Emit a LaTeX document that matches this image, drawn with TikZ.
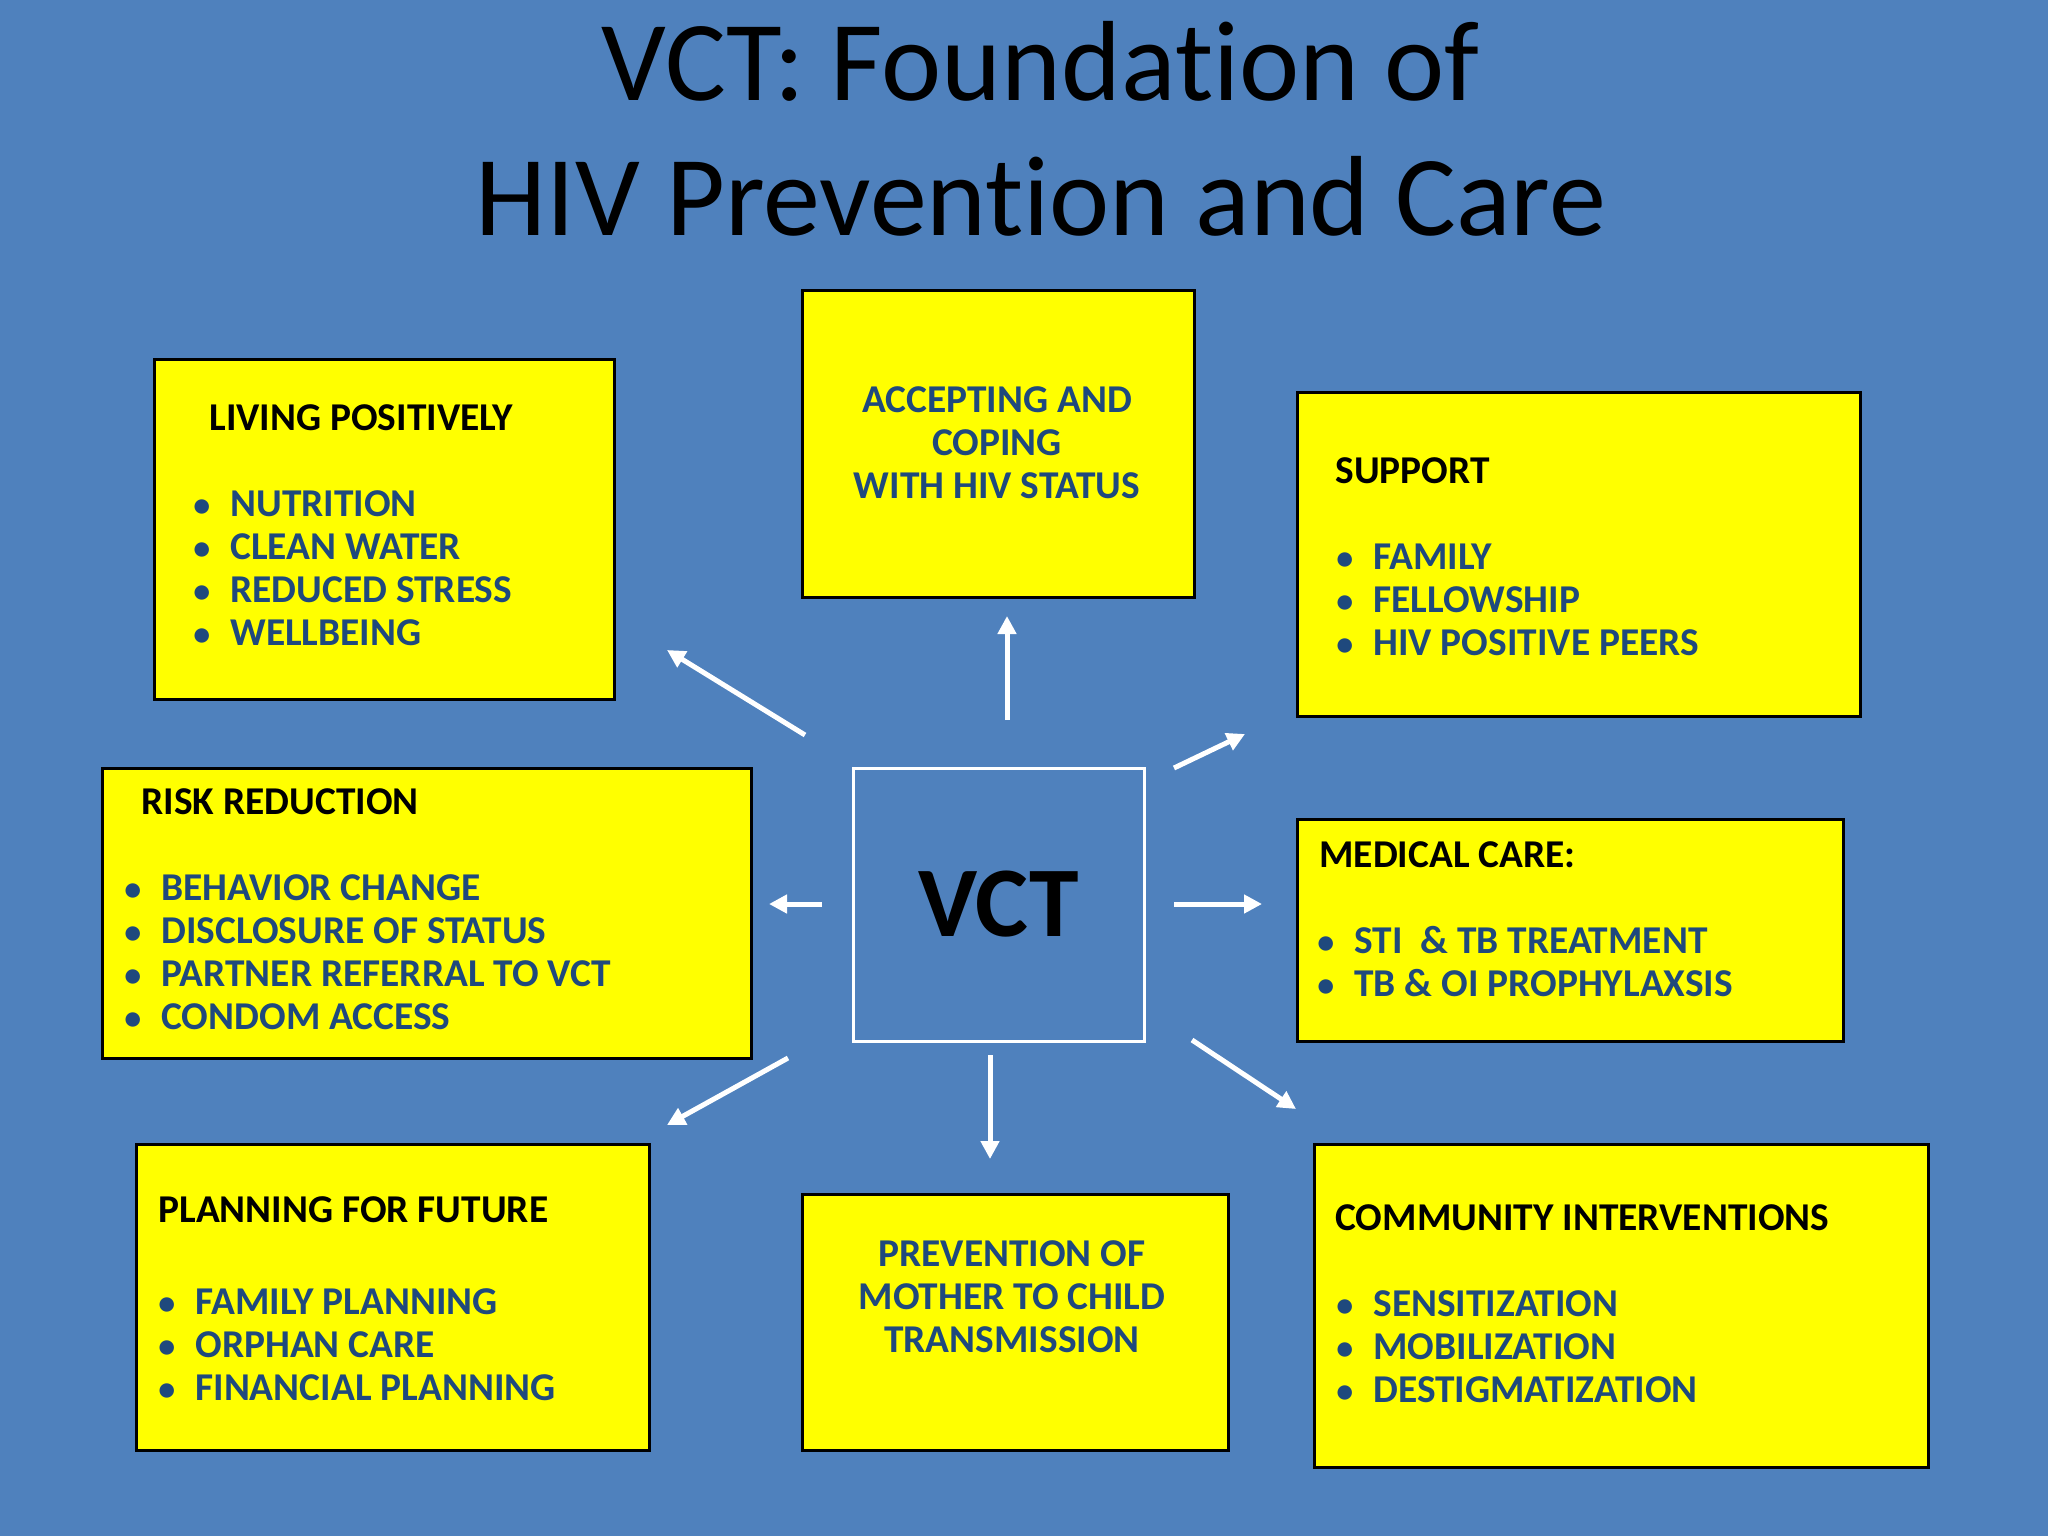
\documentclass[tikz,border=0pt]{standalone}
\usepackage{fontspec}
\setmainfont{Carlito}[Ligatures=NoCommon]
\usetikzlibrary{fit,arrows.meta}
\definecolor{bg}{HTML}{4F81BD}
\definecolor{ylw}{HTML}{FFFF00}
\definecolor{txtblue}{HTML}{1F497D}
\newcommand\bul{\llap{\makebox[18.5pt][l]{\fontsize{17}{17}\selectfont •}}}
\begin{document}
\begin{tikzpicture}[x=0.5pt,y=-0.5pt,
  ybox/.style={draw=black,line width=1.5pt,fill=ylw,inner sep=0pt},
  head/.style={anchor=base west,inner sep=0pt,font=\fontsize{19.7}{21.5}\selectfont\bfseries,text=black},
  item/.style={anchor=base west,inner sep=0pt,font=\fontsize{19.7}{21.5}\selectfont\bfseries,text=txtblue},
  ctext/.style={inner sep=0pt,align=center,font=\fontsize{19.7}{21.5}\selectfont\bfseries,text=txtblue},
  arr/.style={draw=white,line width=2.5pt,-{Triangle[length=9pt,width=9pt]}},
  ttl/.style={inner sep=0pt,anchor=base,font=\fontsize{57}{63}\selectfont,text=black}]
\fill[bg] (0,0) rectangle (2048,1536);
\useasboundingbox (0,0) rectangle (2048,1536);
% title
\node[ttl] (t1) at (1041,100) {VCT: Foundation of};
\node[ttl] (t2) at (1041,235) {HIV Prevention and Care};
% boxes
\node[ybox,fit={(154,359)(614,699)}] (liv) {};
\node[ybox,fit={(802,290)(1194,597)}] (acc) {};
\node[ybox,fit={(1297,392)(1860,716)}] (sup) {};
\node[ybox,fit={(1297,819)(1843,1041)}] (med) {};
\node[ybox,fit={(102,768)(751,1058)}] (risk) {};
\node[ybox,fit={(136,1144)(649,1450)}] (plan) {};
\node[ybox,fit={(802,1194)(1228,1450)}] (pm) {};
\node[ybox,fit={(1314,1144)(1928,1467)}] (com) {};
\node[draw=white,line width=1.5pt,fill=bg,inner sep=0pt,fit={(853,768)(1144,1041)}] (vct) {};
\node[inner sep=0pt,font=\fontsize{50}{55}\selectfont\bfseries] (vctt) at (vct.center) {VCT};
% living
\node[head] (livh) at (209,430) {LIVING POSITIVELY};
\node[item] (liv1) at (230,516) {\bul NUTRITION};
\node[item] (liv2) at (230,559) {\bul CLEAN WATER};
\node[item] (liv3) at (230,602) {\bul REDUCED STRESS};
\node[item] (liv4) at (230,645) {\bul WELLBEING};
% accepting
\node[ctext] (acct) at (997,443) {ACCEPTING AND\\COPING\\WITH HIV STATUS};
% support
\node[head] (suph) at (1335,483) {SUPPORT};
\node[item] (sup1) at (1373,569) {\bul FAMILY};
\node[item] (sup2) at (1373,612) {\bul FELLOWSHIP};
\node[item] (sup3) at (1373,655) {\bul HIV POSITIVE PEERS};
% medical
\node[head] (medh) at (1319,867) {MEDICAL CARE:};
\node[item] (med1) at (1354,953) {\bul STI\ \ \& TB TREATMENT};
\node[item] (med2) at (1354,996) {\bul TB \& OI PROPHYLAXSIS};
% risk
\node[head] (riskh) at (141,814) {RISK REDUCTION};
\node[item] (risk1) at (161,900) {\bul BEHAVIOR CHANGE};
\node[item] (risk2) at (161,943) {\bul DISCLOSURE OF STATUS};
\node[item] (risk3) at (161,986) {\bul PARTNER REFERRAL TO VCT};
\node[item] (risk4) at (161,1029) {\bul CONDOM ACCESS};
% planning
\node[head] (planh) at (158,1222) {PLANNING FOR FUTURE};
\node[item] (plan1) at (195,1314) {\bul FAMILY PLANNING};
\node[item] (plan2) at (195,1357) {\bul ORPHAN CARE};
\node[item] (plan3) at (195,1400) {\bul FINANCIAL PLANNING};
% pmtct
\node[ctext] (pmt) at (1012,1297) {PREVENTION OF\\MOTHER TO CHILD\\TRANSMISSION};
% community
\node[head] (comh) at (1335,1230) {COMMUNITY INTERVENTIONS};
\node[item] (com1) at (1373,1316) {\bul SENSITIZATION};
\node[item] (com2) at (1373,1359) {\bul MOBILIZATION};
\node[item] (com3) at (1373,1402) {\bul DESTIGMATIZATION};
% arrow end points
\coordinate (a1s) at (805,735);  \coordinate (a1e) at (667,650);
\coordinate (a2s) at (1007,720); \coordinate (a2e) at (1007,616);
\coordinate (a3s) at (1174,768); \coordinate (a3e) at (1245,734);
\coordinate (a4s) at (822,904);  \coordinate (a4e) at (769,904);
\coordinate (a5s) at (1174,904); \coordinate (a5e) at (1262,904);
\coordinate (a6s) at (788,1058); \coordinate (a6e) at (667,1125);
\coordinate (a7s) at (990,1055); \coordinate (a7e) at (990,1159);
\coordinate (a8s) at (1192,1040); \coordinate (a8e) at (1296,1109);
\draw[arr] (a1s) -- (a1e);
\draw[arr] (a2s) -- (a2e);
\draw[arr] (a3s) -- (a3e);
\draw[arr] (a4s) -- (a4e);
\draw[arr] (a5s) -- (a5e);
\draw[arr] (a6s) -- (a6e);
\draw[arr] (a7s) -- (a7e);
\draw[arr] (a8s) -- (a8e);
\end{tikzpicture}
\end{document}
